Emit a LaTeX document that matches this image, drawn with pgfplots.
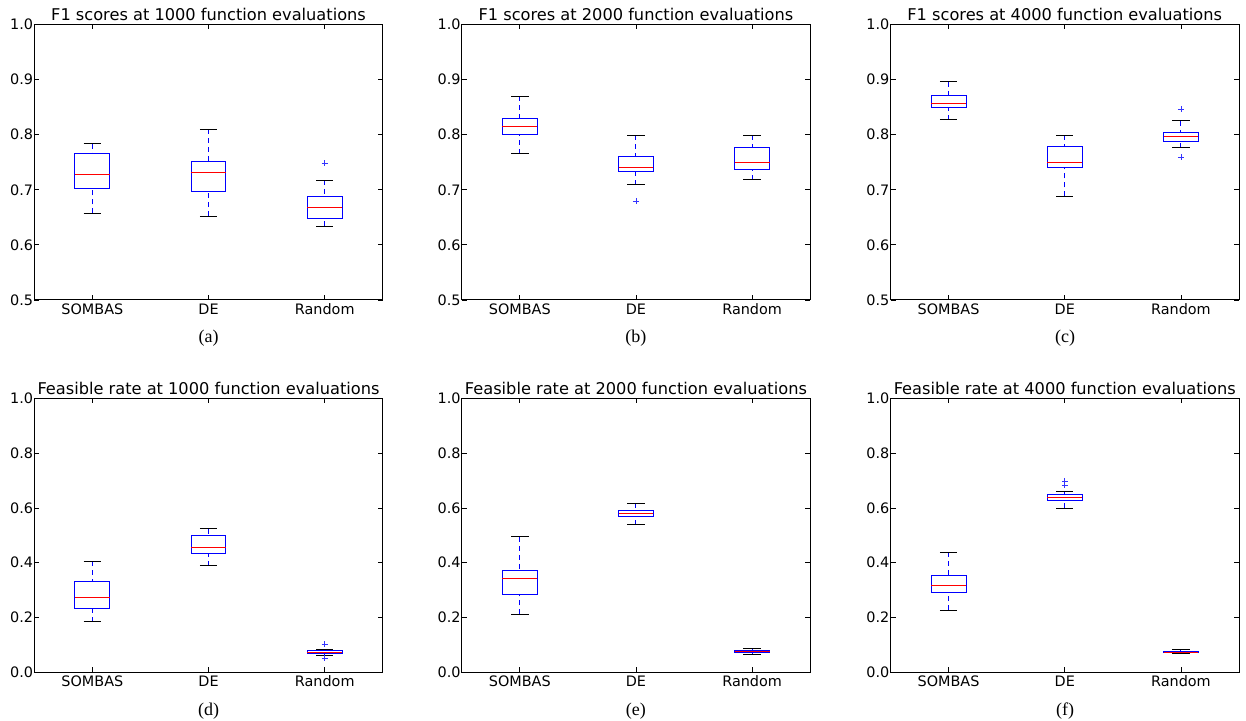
\documentclass[border=0pt]{standalone}
\usepackage{fontspec}
\setmainfont{DejaVu Sans}
\newfontfamily\capfont{Liberation Serif}
\usepackage{pgfplots}
\pgfplotsset{compat=1.18}
\usepgfplotslibrary{statistics}
\pgfplotsset{
  boxplot/draw/lower whisker/.code={%
    \draw[blue, line width=1pt, dash pattern=on 5pt off 4pt]
      (boxplot box cs:\pgfplotsboxplotvalue{lower whisker},0.5)
      -- (boxplot box cs:\pgfplotsboxplotvalue{lower quartile},0.5);
    \draw[black, line width=1pt]
      (boxplot whisker cs:\pgfplotsboxplotvalue{lower whisker},0)
      -- (boxplot whisker cs:\pgfplotsboxplotvalue{lower whisker},1);
  },
  boxplot/draw/upper whisker/.code={%
    \draw[blue, line width=1pt, dash pattern=on 5pt off 4pt]
      (boxplot box cs:\pgfplotsboxplotvalue{upper whisker},0.5)
      -- (boxplot box cs:\pgfplotsboxplotvalue{upper quartile},0.5);
    \draw[black, line width=1pt]
      (boxplot whisker cs:\pgfplotsboxplotvalue{upper whisker},0)
      -- (boxplot whisker cs:\pgfplotsboxplotvalue{upper whisker},1);
  },
  bx/.style={blue, mark=+, mark size=3pt, mark options={blue!80, line width=0.7pt, solid}},
  common/.style={
    scale only axis, width=348.5pt, anchor=south west,
    xmin=0.5, xmax=3.5, xtick={1,2,3}, xticklabels={SOMBAS,DE,Random},
    tick align=inside, xtick pos=both, ytick pos=both,
    major tick length=5pt,
    tick style={black, line width=0.8pt},
    axis line style={black, line width=1pt},
    ticklabel style={font=\fontsize{14.4}{17}\selectfont},
    /pgf/number format/assume math mode=true,
    yticklabel style={inner xsep=1pt, /pgf/number format/.cd, fixed, fixed zerofill, precision=1},
    title style={at={(0.5,1)}, anchor=base, yshift=-2.5pt, font=\fontsize{16.2}{19}\selectfont},
    boxplot/draw direction=y,
    boxplot/box extend=0.3,
    boxplot/whisker extend=0.15,
    boxplot/every box/.style={draw=blue, line width=1pt},
    boxplot/every median/.style={draw=red, line width=1pt},
  },
  toprow/.style={common, height=275.5pt, ymin=0.5, ymax=1.0, ytick={0.5,0.6,0.7,0.8,0.9,1.0}},
  botrow/.style={common, height=274pt, ymin=0, ymax=1.0, ytick={0,0.2,0.4,0.6,0.8,1.0}},
}
\begin{document}
\begin{tikzpicture}
\useasboundingbox (0pt,0pt) rectangle (1246pt,720pt);
% (a)
\begin{axis}[toprow, at={(34.3pt,420pt)}, title={F1 scores at 1000 function evaluations}]
\addplot[bx, boxplot prepared={draw position=1, lower whisker=0.657, lower quartile=0.702, median=0.728, upper quartile=0.765, upper whisker=0.784}] coordinates {};
\addplot[bx, boxplot prepared={draw position=2, lower whisker=0.652, lower quartile=0.697, median=0.732, upper quartile=0.751, upper whisker=0.810}] coordinates {};
\addplot[bx, boxplot prepared={draw position=3, lower whisker=0.634, lower quartile=0.648, median=0.668, upper quartile=0.687, upper whisker=0.717}] table[row sep=\\, y index=0] {data\\ 0.748\\};
\end{axis}
% (b)
\begin{axis}[toprow, at={(461.7pt,420pt)}, title={F1 scores at 2000 function evaluations}]
\addplot[bx, boxplot prepared={draw position=1, lower whisker=0.765, lower quartile=0.800, median=0.815, upper quartile=0.830, upper whisker=0.870}] coordinates {};
\addplot[bx, boxplot prepared={draw position=2, lower whisker=0.709, lower quartile=0.733, median=0.741, upper quartile=0.761, upper whisker=0.799}] table[row sep=\\, y index=0] {data\\ 0.679\\};
\addplot[bx, boxplot prepared={draw position=3, lower whisker=0.718, lower quartile=0.736, median=0.749, upper quartile=0.776, upper whisker=0.799}] coordinates {};
\end{axis}
% (c)
\begin{axis}[toprow, at={(890.5pt,420pt)}, title={F1 scores at 4000 function evaluations}]
\addplot[bx, boxplot prepared={draw position=1, lower whisker=0.827, lower quartile=0.850, median=0.857, upper quartile=0.872, upper whisker=0.896}] coordinates {};
\addplot[bx, boxplot prepared={draw position=2, lower whisker=0.688, lower quartile=0.741, median=0.750, upper quartile=0.779, upper whisker=0.799}] coordinates {};
\addplot[bx, boxplot prepared={draw position=3, lower whisker=0.776, lower quartile=0.788, median=0.797, upper quartile=0.804, upper whisker=0.825}] table[row sep=\\, y index=0] {data\\ 0.846\\ 0.759\\};
\end{axis}
% (d)
\begin{axis}[botrow, at={(34.3pt,47.7pt)}, title={Feasible rate at 1000 function evaluations}]
\addplot[bx, boxplot prepared={draw position=1, lower whisker=0.184, lower quartile=0.232, median=0.272, upper quartile=0.333, upper whisker=0.405}] coordinates {};
\addplot[bx, boxplot prepared={draw position=2, lower whisker=0.388, lower quartile=0.433, median=0.454, upper quartile=0.499, upper whisker=0.524}] coordinates {};
\addplot[bx, boxplot prepared={draw position=3, lower whisker=0.063, lower quartile=0.070, median=0.074, upper quartile=0.080, upper whisker=0.083}] table[row sep=\\, y index=0] {data\\ 0.102\\ 0.052\\};
\end{axis}
% (e)
\begin{axis}[botrow, at={(461.7pt,47.7pt)}, title={Feasible rate at 2000 function evaluations}]
\addplot[bx, boxplot prepared={draw position=1, lower whisker=0.211, lower quartile=0.285, median=0.344, upper quartile=0.373, upper whisker=0.494}] coordinates {};
\addplot[bx, boxplot prepared={draw position=2, lower whisker=0.539, lower quartile=0.567, median=0.578, upper quartile=0.591, upper whisker=0.617}] coordinates {};
\addplot[bx, boxplot prepared={draw position=3, lower whisker=0.066, lower quartile=0.073, median=0.077, upper quartile=0.080, upper whisker=0.087}] coordinates {};
\end{axis}
% (f)
\begin{axis}[botrow, at={(890.5pt,47.7pt)}, title={Feasible rate at 4000 function evaluations}]
\addplot[bx, boxplot prepared={draw position=1, lower whisker=0.227, lower quartile=0.293, median=0.318, upper quartile=0.354, upper whisker=0.438}] coordinates {};
\addplot[bx, boxplot prepared={draw position=2, lower whisker=0.599, lower quartile=0.627, median=0.638, upper quartile=0.648, upper whisker=0.660}] table[row sep=\\, y index=0] {data\\ 0.698\\ 0.684\\};
\addplot[bx, boxplot prepared={draw position=3, lower whisker=0.068, lower quartile=0.072, median=0.074, upper quartile=0.077, upper whisker=0.083}] coordinates {};
\end{axis}
% sub-captions
\begin{scope}[every node/.style={font=\capfont\fontsize{18}{21}\selectfont, inner sep=0pt}]
\node at (208.5pt,382pt) {(a)};
\node at (635.9pt,382pt) {(b)};
\node at (1065pt,382pt) {(c)};
\node at (208.5pt,9pt) {(d)};
\node at (635.9pt,9pt) {(e)};
\node at (1065pt,9pt) {(f)};
\end{scope}
\end{tikzpicture}
\end{document}
